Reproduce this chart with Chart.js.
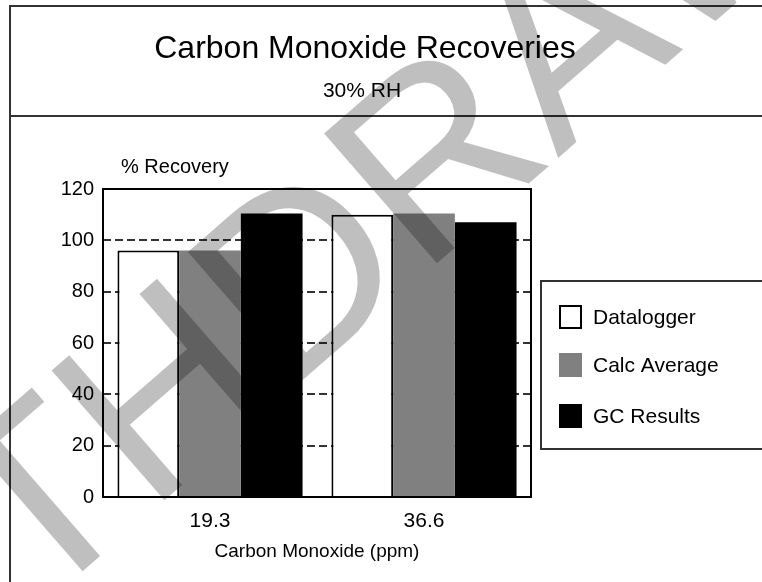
<!DOCTYPE html>
<html lang="en">
<head>
    <meta charset="UTF-8">
    <title>Carbon Monoxide Recoveries</title>
    <script src="https://cdn.jsdelivr.net/npm/chart.js"></script>
    <style>
        body {
            margin: 0;
            padding: 0;
            background: #fff;
            overflow: hidden;
        }
        #chartBox {
            width: 762px;
            height: 582px;
        }
    </style>
</head>
<body>
    <div id="chartBox">
        <canvas id="recoveryChart" width="762" height="582"></canvas>
    </div>

    <script>
        // data
        const categories = ['19.3', '36.6'];
        const seriesNames = ['Datalogger', 'Calc Average', 'GC Results'];
        const datalogger = [96, 110];
        const calcAverage = [96, 110.5];
        const gcResults = [110.5, 107];
        const yMin = 0;
        const yMax = 120;
        const yStep = 20;

        const titleText = 'Carbon Monoxide Recoveries';
        const subtitleText = '30% RH';
        const yAxisTitle = '% Recovery';
        const xAxisTitle = 'Carbon Monoxide (ppm)';
        const watermarkText = 'WITHDRAWN';

        const fontFamily = '"Liberation Sans", Arial, sans-serif';
        const fills = ['#ffffff', '#808080', '#000000'];

        // frame, titles, legend and watermark drawn straight on the canvas
        const decorPlugin = {
            id: 'decor',
            afterDatasetsDraw(chart) {
                const ctx = chart.ctx;
                const area = chart.chartArea;
                ctx.save();
                ctx.strokeStyle = '#000';
                ctx.lineWidth = 2;
                ctx.strokeRect(area.left, area.top, area.right - area.left, area.bottom - area.top);
                ctx.restore();
            },
            afterDraw(chart) {
                const ctx = chart.ctx;
                ctx.save();

                // outer page frame + header divider
                ctx.strokeStyle = '#333';
                ctx.lineWidth = 2;
                ctx.beginPath();
                ctx.moveTo(10, 600);
                ctx.lineTo(10, 6);
                ctx.lineTo(770, 6);
                ctx.moveTo(10, 116);
                ctx.lineTo(770, 116);
                ctx.stroke();

                ctx.fillStyle = '#000';
                ctx.textAlign = 'center';
                ctx.textBaseline = 'alphabetic';
                ctx.font = '32px ' + fontFamily;
                ctx.fillText(titleText, 365, 58);
                ctx.font = '21px ' + fontFamily;
                ctx.fillText(subtitleText, 362, 97);

                // y axis title sits flat above the axis
                ctx.textAlign = 'left';
                ctx.font = '20px ' + fontFamily;
                ctx.fillText(yAxisTitle, 121, 173);

                // legend box
                ctx.strokeStyle = '#333';
                ctx.lineWidth = 2;
                ctx.strokeRect(541, 281, 240, 168);
                const rowY = [317, 365, 416];
                ctx.font = '21px ' + fontFamily;
                ctx.textBaseline = 'middle';
                chart.data.datasets.forEach((ds, i) => {
                    const y = rowY[i];
                    ctx.fillStyle = ds.backgroundColor;
                    ctx.fillRect(559, y - 12, 23, 24);
                    if (i === 0) {
                        ctx.strokeStyle = '#000';
                        ctx.lineWidth = 2;
                        ctx.strokeRect(560, y - 11, 21, 22);
                    }
                    ctx.fillStyle = '#000';
                    ctx.fillText(ds.label, 593, y + 1);
                });

                // grey watermark over everything
                ctx.translate(397, 298);
                ctx.rotate(-41 * Math.PI / 180);
                ctx.font = '250px ' + fontFamily;
                ctx.textAlign = 'center';
                ctx.textBaseline = 'alphabetic';
                ctx.fillStyle = 'rgba(0, 0, 0, 0.25)';
                ctx.fillText(watermarkText, 0, 0);

                ctx.restore();
            }
        };

        const recoveryChart = new Chart(document.getElementById('recoveryChart').getContext('2d'), {
            type: 'bar',
            data: {
                labels: categories,
                datasets: [
                    { label: seriesNames[0], data: datalogger, backgroundColor: fills[0], borderColor: '#000', borderWidth: 2 },
                    { label: seriesNames[1], data: calcAverage, backgroundColor: fills[1], borderWidth: 0 },
                    { label: seriesNames[2], data: gcResults, backgroundColor: fills[2], borderWidth: 0 }
                ]
            },
            options: {
                responsive: false,
                animation: false,
                devicePixelRatio: 1,
                categoryPercentage: 0.865,
                barPercentage: 1.0,
                layout: {
                    padding: { top: 189, right: 231, left: 0, bottom: 0 }
                },
                plugins: {
                    legend: { display: false },
                    title: { display: false },
                    tooltip: { enabled: false }
                },
                scales: {
                    x: {
                        grid: { display: false, drawTicks: false },
                        border: { display: false },
                        ticks: {
                            color: '#000',
                            padding: 12,
                            font: { family: fontFamily, size: 21 }
                        },
                        title: {
                            display: true,
                            text: xAxisTitle,
                            color: '#000',
                            padding: { top: 4, bottom: 19 },
                            font: { family: fontFamily, size: 19 }
                        },
                        afterFit(scale) {
                            scale.height = 85;
                        }
                    },
                    y: {
                        min: yMin,
                        max: yMax,
                        grid: {
                            drawTicks: false,
                            lineWidth: 2,
                            color: (c) => (c.tick && (c.tick.value === yMin || c.tick.value === yMax)) ? 'rgba(0,0,0,0)' : '#333'
                        },
                        border: { display: false, dash: [8, 4] },
                        ticks: {
                            stepSize: yStep,
                            color: '#000',
                            padding: 9,
                            font: { family: fontFamily, size: 20 }
                        },
                        afterFit(scale) {
                            scale.width = 103;
                        }
                    }
                }
            },
            plugins: [decorPlugin]
        });
    </script>
</body>
</html>
